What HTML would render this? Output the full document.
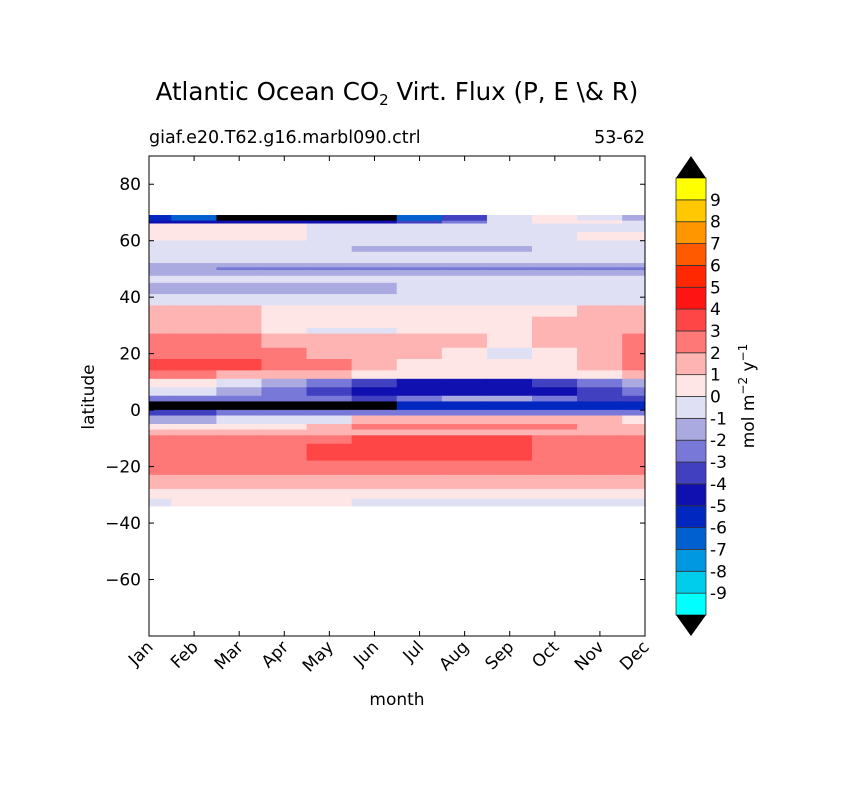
<!DOCTYPE html>
<html><head><meta charset="utf-8"><style>
body{margin:0;background:#fff}
svg text{font-family:"DejaVu Sans","Liberation Sans",sans-serif;fill:#000}
</style></head><body>
<svg id="chart" width="841" height="788" viewBox="0 0 841 788" xmlns="http://www.w3.org/2000/svg">
<rect width="841" height="788" fill="#fff"/>
<text x="397" y="100" font-size="24.5" text-anchor="middle">Atlantic Ocean CO<tspan font-size="15" dy="5">2</tspan><tspan dy="-5"> Virt. Flux (P, E \&amp; R)</tspan></text>
<text x="149" y="143" font-size="17.5">giaf.e20.T62.g16.marbl090.ctrl</text>
<text x="645" y="143" font-size="17.5" text-anchor="end">53-62</text>
<g id="cells"></g>
<g id="axes"></g>
<g id="cbar"></g>
<text x="0" y="0" font-size="17" text-anchor="middle" transform="translate(94,397) rotate(-90)">latitude</text>
<text x="397" y="705" font-size="17" text-anchor="middle">month</text>
<text x="0" y="0" font-size="17" text-anchor="middle" transform="translate(754,396) rotate(-90)">mol m<tspan font-size="12" dy="-7">−2</tspan><tspan dy="7"> y</tspan><tspan font-size="12" dy="-7">−1</tspan></text>
</svg>
<script>
const months=["Jan","Feb","Mar","Apr","May","Jun","Jul","Aug","Sep","Oct","Nov","Dec"];
const yTicks=[-60,-40,-20,0,20,40,60,80];
const levels=[-9,-8,-7,-6,-5,-4,-3,-2,-1,0,1,2,3,4,5,6,7,8,9];
const bandTop=[69,67,66,63,60,58,56,52,50.5,49.5,47.5,45,41,37,33,29,27,22,18,14,11,8,5,3,0,-2,-5,-7,-9,-12,-18,-23,-28,-31.5];
const bandBottom=[67,66,63,60,58,56,52,50.5,49.5,47.5,45,41,37,33,29,27,22,18,14,11,8,5,3,0,-2,-5,-7,-9,-12,-18,-23,-28,-31.5,-34];
const bandValues=[
[-5.5,-6.5,-10.5,-10.5,-10.5,-10.5,-6.5,-3.5,-0.5,0.5,-0.5,-1.5],
[-4.5,-4.5,-4.5,-4.5,-4.5,-4.5,-3.5,-2.5,-0.5,0.5,0.5,-0.5],
[0.5,0.5,0.5,0.5,-0.5,-0.5,-0.5,-0.5,-0.5,-0.5,-0.5,-0.5],
[0.5,0.5,0.5,0.5,-0.5,-0.5,-0.5,-0.5,-0.5,-0.5,0.5,0.5],
[-0.5,-0.5,-0.5,-0.5,-0.5,-0.5,-0.5,-0.5,-0.5,-0.5,-0.5,-0.5],
[-0.5,-0.5,-0.5,-0.5,-0.5,-1.5,-1.5,-1.5,-1.5,-0.5,-0.5,-0.5],
[-0.5,-0.5,-0.5,-0.5,-0.5,-0.5,-0.5,-0.5,-0.5,-0.5,-0.5,-0.5],
[-1.5,-1.5,-1.5,-1.5,-1.5,-1.5,-1.5,-1.5,-1.5,-1.5,-1.5,-1.5],
[-1.5,-1.5,-2.5,-2.5,-2.5,-2.5,-2.5,-2.5,-2.5,-2.5,-2.5,-2.5],
[-1.5,-1.5,-1.5,-1.5,-1.5,-1.5,-1.5,-1.5,-1.5,-1.5,-1.5,-1.5],
[-0.5,-0.5,-0.5,-0.5,-0.5,-0.5,-0.5,-0.5,-0.5,-0.5,-0.5,-0.5],
[-1.5,-1.5,-1.5,-1.5,-1.5,-1.5,-0.5,-0.5,-0.5,-0.5,-0.5,-0.5],
[-0.5,-0.5,-0.5,-0.5,-0.5,-0.5,-0.5,-0.5,-0.5,-0.5,-0.5,-0.5],
[1.5,1.5,1.5,0.5,0.5,0.5,0.5,0.5,0.5,0.5,1.5,1.5],
[1.5,1.5,1.5,0.5,0.5,0.5,0.5,0.5,0.5,1.5,1.5,1.5],
[1.5,1.5,1.5,0.5,-0.5,-0.5,0.5,0.5,0.5,1.5,1.5,1.5],
[2.5,2.5,2.5,1.5,1.5,1.5,1.5,1.5,0.5,1.5,1.5,2.5],
[2.5,2.5,2.5,2.5,1.5,1.5,1.5,0.5,-0.5,0.5,1.5,2.5],
[3.5,3.5,3.5,2.5,2.5,1.5,0.5,0.5,0.5,0.5,1.5,2.5],
[2.5,2.5,1.5,1.5,1.5,0.5,0.5,0.5,0.5,0.5,0.5,1.5],
[0.5,0.5,-0.5,-1.5,-2.5,-3.5,-4.5,-4.5,-4.5,-3.5,-2.5,-1.5],
[-0.5,-0.5,-1.5,-2.5,-3.5,-4.5,-4.5,-4.5,-4.5,-4.5,-3.5,-2.5],
[-2.5,-2.5,-2.5,-2.5,-2.5,-3.5,-2.5,-1.5,-1.5,-2.5,-3.5,-3.5],
[-10.5,-10.5,-10.5,-10.5,-10.5,-10.5,-5.5,-5.5,-5.5,-5.5,-5.5,-5.5],
[-3.5,-3.5,-2.5,-2.5,-2.5,-2.5,-2.5,-2.5,-2.5,-2.5,-2.5,-2.5],
[-1.5,-1.5,-0.5,-0.5,-0.5,1.5,1.5,1.5,1.5,1.5,1.5,0.5],
[0.5,0.5,0.5,0.5,1.5,2.5,2.5,2.5,2.5,2.5,1.5,1.5],
[1.5,1.5,1.5,1.5,1.5,1.5,1.5,1.5,1.5,1.5,1.5,1.5],
[2.5,2.5,2.5,2.5,2.5,3.5,3.5,3.5,3.5,2.5,2.5,2.5],
[2.5,2.5,2.5,2.5,3.5,3.5,3.5,3.5,3.5,2.5,2.5,2.5],
[2.5,2.5,2.5,2.5,2.5,2.5,2.5,2.5,2.5,2.5,2.5,2.5],
[1.5,1.5,1.5,1.5,1.5,1.5,1.5,1.5,1.5,1.5,1.5,1.5],
[0.5,0.5,0.5,0.5,0.5,0.5,0.5,0.5,0.5,0.5,0.5,0.5],
[-0.5,0.5,0.5,0.5,0.5,-0.5,-0.5,-0.5,-0.5,-0.5,-0.5,-0.5]
];
const colors=["#00ffff","#00ccec","#0098e0","#0060d0","#0028c0","#1010b0","#4040c0","#7878d8","#aaaae0","#e0e0f4","#ffe6e6","#ffb4b4","#ff7878","#ff4646","#ff1414","#ff2800","#ff5a00","#ff9600","#ffc800","#ffff00"];
const NS="http://www.w3.org/2000/svg";
const X0=149,X1=645,Y0=156,Y1=636;
const xS=m=>X0+(X1-X0)*m/11;
const yS=l=>Y0+(Y1-Y0)*(90-l)/170;
function col(v){if(v<-10)return"#000";if(v>=10)return"#000";return colors[Math.floor(v)+10];}
function mk(t,a,p){const e=document.createElementNS(NS,t);for(const k in a)e.setAttribute(k,a[k]);p.appendChild(e);return e;}
const cells=document.getElementById('cells');
bandValues.forEach((row,b)=>{row.forEach((v,m)=>{
const x0=Math.max(X0,xS(m-0.5)),x1=Math.min(X1,xS(m+0.5));
const r=mk('rect',{x:x0,y:yS(bandTop[b]),width:x1-x0,height:yS(bandBottom[b])-yS(bandTop[b]),fill:col(v),stroke:col(v),'stroke-width':0.5},cells);


});});
const ax=document.getElementById('axes');
const fr=mk('rect',{x:X0,y:Y0,width:X1-X0,height:Y1-Y0,fill:'none',stroke:'#000','stroke-width':1},ax);


months.forEach((mo,i)=>{const x=xS(i);
mk('line',{x1:x,x2:x,y1:Y1,y2:Y1-5,stroke:'#000'},ax);mk('line',{x1:x,x2:x,y1:Y0,y2:Y0+5,stroke:'#000'},ax);
const t=mk('text',{x:0,y:0,'font-size':17,'text-anchor':'end',transform:`translate(${x+5},${Y1+12}) rotate(-45)`},ax);t.textContent=mo;


});
yTicks.forEach(v=>{const y=yS(v);
mk('line',{x1:X0,x2:X0+5,y1:y,y2:y,stroke:'#000'},ax);mk('line',{x1:X1,x2:X1-5,y1:y,y2:y,stroke:'#000'},ax);
const t=mk('text',{x:141,y:y+6,'font-size':17,'text-anchor':'end'},ax);t.textContent=v<0?'\u2212'+(-v):String(v);


});
const cb=document.getElementById('cbar');
const CX=676,CW=30,CT=178,CB=615,bh=(CB-CT)/20;
colors.forEach((c,i)=>{const r=mk('rect',{x:CX,y:CB-(i+1)*bh,width:CW,height:bh,fill:c,stroke:'#333','stroke-width':0.8},cb);

});
const tu=mk('polygon',{points:`${CX},${CT} ${CX+CW},${CT} ${CX+CW/2},156`,fill:'#000'},cb);


const td=mk('polygon',{points:`${CX},${CB} ${CX+CW},${CB} ${CX+CW/2},636`,fill:'#000'},cb);


levels.forEach(l=>{const y=CB-(l+10)*bh;
const t=mk('text',{x:710,y:y+6,'font-size':17},cb);t.textContent=String(l);

});
</script>
</body></html>
